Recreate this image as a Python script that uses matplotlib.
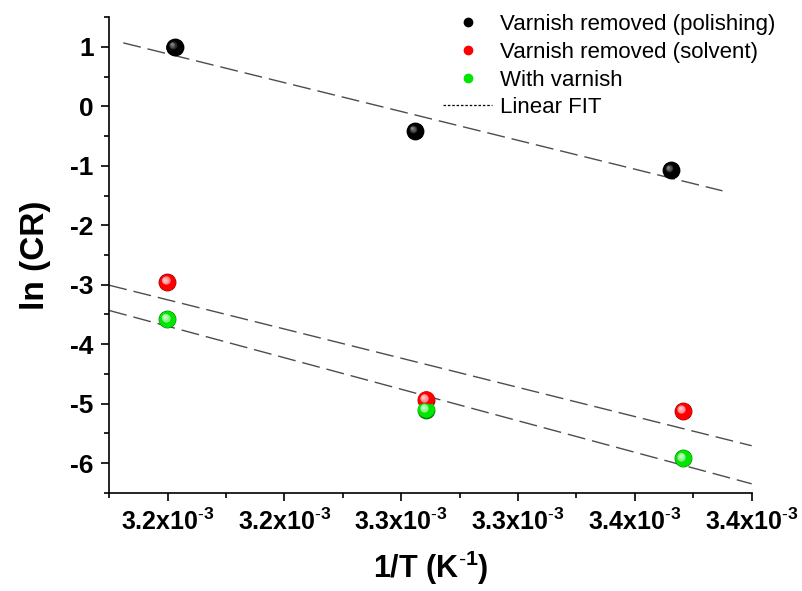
import numpy as np
import matplotlib
matplotlib.use("Agg")
import matplotlib.pyplot as plt
import matplotlib.colors as mcolors
import matplotlib.transforms as mtransforms
from matplotlib.lines import Line2D
from matplotlib.ticker import FixedLocator, FixedFormatter, MultipleLocator

plt.rcParams['font.family'] = ['Liberation Sans', 'DejaVu Sans']
plt.rcParams['mathtext.fontset'] = 'custom'
plt.rcParams['mathtext.rm'] = 'Liberation Sans'
plt.rcParams['mathtext.bf'] = 'Liberation Sans:bold'
plt.rcParams['mathtext.default'] = 'bf'
plt.rcParams['axes.unicode_minus'] = False

# data (1/T in K^-1, ln(CR))
x_polish = [3.2030e-3, 3.3059e-3, 3.4155e-3]
y_polish = [0.995, -0.417, -1.075]
x_solvent = [3.1999e-3, 3.3105e-3, 3.4207e-3]
y_solvent = [-2.957, -4.93, -5.123]
x_varnish = [3.1999e-3, 3.3105e-3, 3.4207e-3]
y_varnish = [-3.581, -5.10, -5.921]

series_labels = ["Varnish removed (polishing)", "Varnish removed (solvent)", "With varnish"]
series_colors = ["#000000", "#ff0000", "#00e600"]
fit_ranges = [(3.181e-3, 3.4375e-3), (3.175e-3, 3.45e-3), (3.175e-3, 3.45e-3)]

x_ticks = [3.20e-3, 3.25e-3, 3.30e-3, 3.35e-3, 3.40e-3, 3.45e-3]
x_tick_labels = ["3.2", "3.2", "3.3", "3.3", "3.4", "3.4"]
y_ticks = [-6, -5, -4, -3, -2, -1, 0, 1]


def ball(ax, xs, ys, color, size=165, n=14):
    # fake shaded sphere: stacked circles getting lighter towards upper left
    base = np.array(mcolors.to_rgb(color))
    dark = base * 0.55
    ax.scatter(xs, ys, s=size, color=dark, zorder=4, linewidths=0)
    r = np.sqrt(size) / 2
    for k in range(1, n):
        f = k / n
        c = base * (1 - f) + np.ones(3) * f * 0.85 + base * f * 0.15 if f > 0.55 else base
        if color == "#000000":
            c = np.ones(3) * max(0.0, (f - 0.5)) * 1.2
        s = size * (1 - 0.93 * f) ** 2
        off = mtransforms.offset_copy(ax.transData, fig=ax.figure,
                                      x=-0.35 * r * f, y=0.35 * r * f, units='points')
        ax.scatter(xs, ys, s=s, color=np.clip(c, 0, 1), zorder=4 + f, linewidths=0,
                   transform=off)


fig = plt.figure(figsize=(8.03, 5.91), dpi=100)
ax = fig.add_axes([0.1357, 0.166, 0.8007, 0.805])

xs_all = [x_polish, x_solvent, x_varnish]
ys_all = [y_polish, y_solvent, y_varnish]
for xs, ys, col, (a, b) in zip(xs_all, ys_all, series_colors, fit_ranges):
    k, c0 = np.polyfit(xs, ys, 1)
    xx = np.array([a, b])
    ax.plot(xx, k * xx + c0, color="#4d4d4d", lw=1.0, dashes=(13, 5), zorder=2)
    ball(ax, xs, ys, col)

ax.set_xlim(3.1749e-3, 3.4501e-3)
ax.set_ylim(-6.5, 1.5)

ax.xaxis.set_major_locator(FixedLocator(x_ticks))
ax.xaxis.set_major_formatter(FixedFormatter([t + r"x10$^{\text{-}3}$" for t in x_tick_labels]))
ax.xaxis.set_minor_locator(MultipleLocator(0.025e-3))
ax.yaxis.set_major_locator(FixedLocator(y_ticks))
ax.yaxis.set_minor_locator(MultipleLocator(0.5))

for side in ["top", "right"]:
    ax.spines[side].set_visible(False)
for side in ["left", "bottom"]:
    ax.spines[side].set_linewidth(1.2)
ax.tick_params(which="major", direction="out", length=6, width=1.2, labelsize=18, pad=5)
ax.tick_params(axis="y", which="major", labelsize=19)
ax.tick_params(which="minor", direction="out", length=3.5, width=1.2)
for lab in ax.get_xticklabels() + ax.get_yticklabels():
    lab.set_fontweight("bold")

ax.set_xlabel(r"1/T (K$^{\text{-}1}$)", fontsize=22, fontweight="bold", labelpad=10)
ax.set_ylabel("ln (CR)", fontsize=24, fontweight="bold", labelpad=14)

handles = [Line2D([], [], ls="none", marker="o", ms=6, color=c) for c in series_colors]
handles.append(Line2D([], [], color="black", lw=0.9, ls=(0, (2, 1.5))))
fig.legend(handles, series_labels + ["Linear FIT"], loc="upper left",
           bbox_to_anchor=(0.53, 1.006), frameon=False, fontsize=16,
           handlelength=2.2, handletextpad=0.35, labelspacing=0.3, borderpad=0.3)

fig.savefig("out.png", dpi=100)
